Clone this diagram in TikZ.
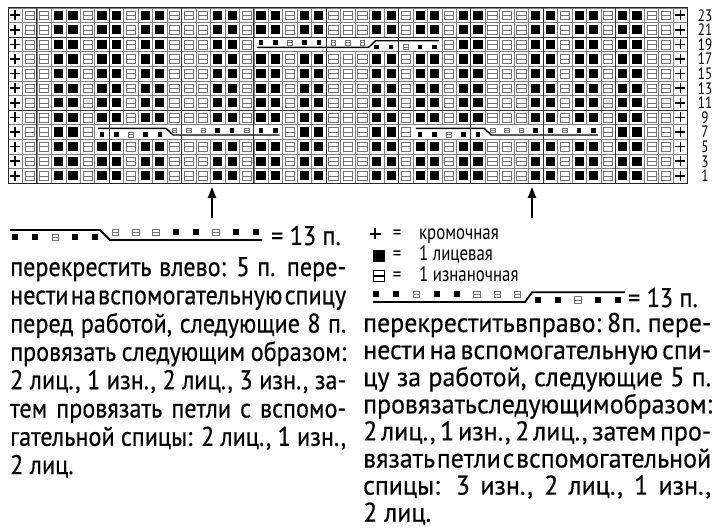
\documentclass[tikz,border=0pt]{standalone}
\usepackage{fontspec}
\setmainfont{PT Sans}
\newfontfamily\bodyfont[FakeStretch=0.895,FakeBold=0.4]{PT Sans}
\newfontfamily\bodyfontR[FakeStretch=0.96,FakeBold=0.4]{PT Sans}
\newfontfamily\condfont[FakeStretch=0.8]{PT Sans}
\usetikzlibrary{arrows.meta}
\definecolor{gridgray}{gray}{0.5}
\definecolor{purlgray}{gray}{0.45}
% chart cell symbols
\newcommand\kcK[2]{\fill[black] (#1-4.6,#2-4.6) rectangle (#1+4.6,#2+4.6);}
\newcommand\kcS[2]{\draw[purlgray,line width=0.7pt] (#1-4.6,#2-4.4) rectangle (#1+4.6,#2+4.4) (#1-4.6,#2) -- (#1+4.6,#2);}
\newcommand\kcP[2]{\draw[black,line width=1.6pt] (#1-5,#2) -- (#1+5,#2) (#1,#2-5) -- (#1,#2+5);}
% small cable symbols
\newcommand\smK[4]{\fill[black] (#1-#3/2,#2-#3/2) rectangle (#1+#3/2,#2+#3/2);}
\newcommand\smS[4]{\draw[purlgray,line width=0.6pt] (#1-#4/2,#2-#4/2) rectangle (#1+#4/2,#2+#4/2) (#1-#4/2,#2) -- (#1+#4/2,#2);}
\newcommand\cabsyms[7]{%
  \foreach \t [count=\k from 0] in {K,K,S,K,K,S,S,S,K,K,S,K,K}{%
    \pgfmathsetmacro\cbsx{#1+\k*#2}%
    \ifnum\k<#5 \def\cbsy{#3}\else\def\cbsy{#4}\fi
    \csname sm\t\endcsname{\cbsx}{\cbsy}{#6}{#7}%
  }%
}
% cables in chart: #1 row index from top, #2 start column
\newcommand\cableA[2]{%
  \pgfmathsetmacro\cbxs{8+#2*14.46}%
  \pgfmathsetmacro\cbxe{8+(#2+13)*14.46}%
  \pgfmathsetmacro\cbxb{8+(#2+5)*14.46}%
  \pgfmathsetmacro\cbT{8+#1*14.6}%
  \fill[white] (\cbxs+0.5,\cbT+0.5) rectangle (\cbxe-0.5,\cbT+14.1);
  \draw[black,line width=1.4pt] (\cbxs+3,\cbT+3.6) -- (\cbxb-1,\cbT+3.6) -- (\cbxb+6,\cbT+10.2) -- (\cbxe-3,\cbT+10.2);
  \cabsyms{\cbxs+7.23}{14.46}{\cbT+9.8}{\cbT+5.6}{5}{4.6}{4.8}%
}
\newcommand\cableB[2]{%
  \pgfmathsetmacro\cbxs{8+#2*14.46}%
  \pgfmathsetmacro\cbxe{8+(#2+13)*14.46}%
  \pgfmathsetmacro\cbxb{8+(#2+8)*14.46}%
  \pgfmathsetmacro\cbT{8+#1*14.6}%
  \fill[white] (\cbxs+0.5,\cbT+0.5) rectangle (\cbxe-0.5,\cbT+14.1);
  \draw[black,line width=1.4pt] (\cbxs+3,\cbT+10.2) -- (\cbxb-1,\cbT+10.2) -- (\cbxb+6,\cbT+3.6) -- (\cbxe-3,\cbT+3.6);
  \cabsyms{\cbxs+7.23}{14.46}{\cbT+5.6}{\cbT+9.8}{8}{4.6}{4.8}%
}
\newcommand\jl[2]{\makebox[#1][s]{\spaceskip=0.25em plus 2em minus 0.24em\relax #2}}
\begin{document}
\begin{tikzpicture}[x=1pt,y=-1pt,
  body/.style={anchor=base west,inner sep=0pt,font=\bodyfont\fontsize{27}{27}\selectfont},
  bodyR/.style={anchor=base west,inner sep=0pt,font=\bodyfontR\fontsize{27}{27}\selectfont},
  legtext/.style={anchor=base west,inner sep=0pt,font=\condfont\fontsize{21}{21}\selectfont},
  legeq/.style={anchor=base,inner sep=0pt,font=\condfont\fontsize{21}{21}\selectfont},
  rownum/.style={anchor=base,inner sep=0pt,font=\condfont\fontsize{16.5}{16.5}\selectfont},
  cabline/.style={black,line width=1.8pt},
  uparrow/.style={-{Triangle[width=8pt,length=11pt]},line width=1.8pt}]
\useasboundingbox (0,0) rectangle (720,529);
\fill[white] (0,0) rectangle (720,529);
% cells
\foreach \r in {0,...,11}{
  \foreach \t [count=\c from 0] in {P,S,S,K,K,S,K,K,S,K,K,S,S,S,K,K,S,K,K,S,K,K,S,S,S,K,K,S,K,K,S,K,K,S,S,S,K,K,S,K,K,S,K,K,S,S,P}{
    \pgfmathsetmacro\cx{8+(\c+0.5)*14.46}
    \pgfmathsetmacro\cy{8+(\r+0.5)*14.6}
    \csname kc\t\endcsname{\cx}{\cy}
  }
}
% grid
\foreach \c in {0,...,47}{
  \pgfmathsetmacro\gxx{8+\c*14.46}
  \draw[gridgray,line width=0.6pt] (\gxx,8) -- (\gxx,183.2);
}
\foreach \r in {0,...,12}{
  \pgfmathsetmacro\gyy{8+\r*14.6}
  \draw[gridgray,line width=0.6pt] (8,\gyy) -- (687.6,\gyy);
}
% cables
\cableA{8}{6}
\cableA{8}{28}
\cableB{2}{17}
% heavier grid lines every 5
\foreach \c in {2,7,12,17,22,27,32,37,42}{
  \pgfmathsetmacro\gxx{8+\c*14.46}
  \draw[black!80,line width=0.9pt] (\gxx,8) -- (\gxx,183.2);
}
\foreach \r in {2,7}{
  \pgfmathsetmacro\gyy{8+\r*14.6}
  \draw[black!80,line width=0.9pt] (8,\gyy) -- (687.6,\gyy);
}
\draw[black!85,line width=1pt] (8,8) rectangle (687.6,183.2);
% row numbers
\foreach \r in {0,...,11}{
  \pgfmathtruncatemacro\lab{23-2*\r}
  \pgfmathsetmacro\ly{8+(\r+0.5)*14.6+5.8}
  \node[rownum] (rn\r) at (705,\ly) {\lab};
}
% arrows
\coordinate (a1s) at (212,218);
\coordinate (a1e) at (212,187);
\coordinate (a2s) at (532,218);
\coordinate (a2e) at (532,187);
\draw[uparrow] (a1s) -- (a1e);
\draw[uparrow] (a2s) -- (a2e);
% left cable legend
\draw[cabline] (10,230) -- (100,230) -- (110,240) -- (262,240);
\cabsyms{15}{20.1}{237.5}{232.5}{5}{6}{6.5}
\node[body] (eqL) at (271,245) {= 13 п.};
% right legend
\draw[black,line width=1.8pt] (369.5,234) -- (380.5,234) (375,228.5) -- (375,239.5);
\node[legeq] (eq1) at (397,240) {=};
\node[legtext] (kr) at (419,240) {кромочная};
\fill[black] (373,250) rectangle (385,262);
\node[legeq] (eq2) at (397,261) {=};
\node[legtext] (lic) at (419,261) {1 лицевая};
\draw[black,line width=1.1pt] (373.5,270.5) rectangle (384.5,281.5) (373.5,276) -- (384.5,276);
\node[legeq] (eq3) at (397,282) {=};
\node[legtext] (izn) at (419,282) {1 изнаночная};
\draw[cabline] (373,302) -- (525,302) -- (532,292.3) -- (625,292.3);
\cabsyms{376}{20.2}{294.5}{300}{8}{6}{6.5}
\node[body] (eqR) at (628,307) {= 13 п.};
% left text
\node[body] (L1) at (10,276) {\jl{336pt}{перекрестить влево: 5 п. пере-}};
\node[body] (L2) at (10,304.3) {\jl{336pt}{нести на вспомогательную спицу}};
\node[body] (L3) at (10,332.6) {\jl{336pt}{перед работой, следующие 8 п.}};
\node[body] (L4) at (10,360.9) {\jl{336pt}{провязать следующим образом:}};
\node[body] (L5) at (10,389.2) {\jl{336pt}{2 лиц., 1 изн., 2 лиц., 3 изн., за-}};
\node[body] (L6) at (10,417.5) {\jl{336pt}{тем провязать петли с вспомо-}};
\node[body] (L7) at (10,445.8) {\jl{336pt}{гательной спицы: 2 лиц., 1 изн.,}};
\node[body] (L8) at (10,474.1) {2 лиц.};
% right text
\node[bodyR] (R1) at (363,332) {\jl{348pt}{перекрестить вправо: 8 п. пере-}};
\node[bodyR] (R2) at (363,359.1) {\jl{348pt}{нести на вспомогательную спи-}};
\node[bodyR] (R3) at (363,386.2) {\jl{348pt}{цу за работой, следующие 5 п.}};
\node[bodyR] (R4) at (363,413.3) {\jl{348pt}{провязать следующим образом:}};
\node[bodyR] (R5) at (363,440.4) {\jl{348pt}{2 лиц., 1 изн., 2 лиц., затем про-}};
\node[bodyR] (R6) at (363,467.5) {\jl{348pt}{вязать петли с вспомогательной}};
\node[bodyR] (R7) at (363,494.6) {\jl{348pt}{спицы: 3 изн., 2 лиц., 1 изн.,}};
\node[bodyR] (R8) at (363,521.7) {2 лиц.};
\end{tikzpicture}
\end{document}
